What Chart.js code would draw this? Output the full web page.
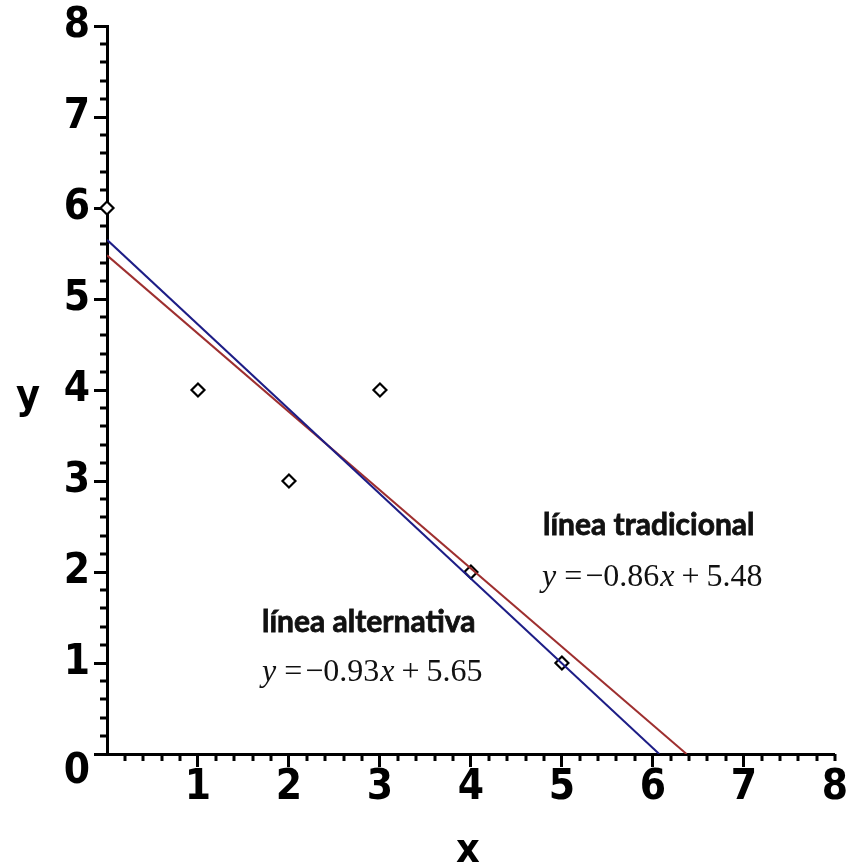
<!DOCTYPE html>
<html>
<head>
<meta charset="utf-8">
<script src="https://cdn.jsdelivr.net/npm/chart.js@4/dist/chart.umd.min.js"></script>
<style>
html,body{margin:0;padding:0;background:#fff;}
canvas{display:block;}
</style>
</head>
<body>
<canvas id="c" width="851" height="867"></canvas>
<script>
// ---- data ----
const xVals = [0, 1, 2, 3, 4, 5];
const yVals = [6, 4, 3, 4, 2, 1];
const tradX = [0, 6.37];
const tradY = [5.48, 0];
const altX = [0, 6.07];
const altY = [5.65, 0];
const xTickLabels = ['', '1', '2', '3', '4', '5', '6', '7', '8'];
const yTickLabels = ['0', '1', '2', '3', '4', '5', '6', '7', '8'];
const xTitle = 'x';
const yTitle = 'y';
const tradLabel = 'línea tradicional';
const tradSlope = '−0.86';
const tradIntercept = '5.48';
const altLabel = 'línea alternativa';
const altSlope = '−0.93';
const altIntercept = '5.65';

const AXIS_FONT = "'DejaVu Sans Condensed', 'DejaVu Sans', sans-serif";

function drawEq(ctx, x, base, slope, inter) {
  const size = 32;
  const roman = size + "px 'Liberation Serif', 'Times New Roman', serif";
  const ital = "italic " + roman;
  const parts = [
    ['y', ital, 8], ['=', roman, 3], [slope, roman, 1], ['x', ital, 7], ['+', roman, 7], [inter, roman, 0]
  ];
  ctx.textBaseline = 'alphabetic';
  ctx.textAlign = 'left';
  let cx = x;
  for (const [t, f, g] of parts) {
    ctx.font = f;
    ctx.fillText(t, cx, base);
    cx += ctx.measureText(t).width + g;
  }
}

function drawBoldLabel(ctx, text, x, base) {
  ctx.font = "bold 30px Lato, 'Open Sans', sans-serif";
  ctx.lineWidth = 0.8;
  ctx.strokeStyle = '#111';
  ctx.fillText(text, x, base);
  ctx.strokeText(text, x, base);
}

const decor = {
  id: 'decor',
  afterDraw(chart) {
    const ctx = chart.ctx;
    const xs = chart.scales.x, ys = chart.scales.y;
    const ca = chart.chartArea;
    ctx.save();
    ctx.strokeStyle = '#000';
    ctx.lineWidth = 3;
    // minor ticks
    for (let i = 1; i <= 40; i++) {
      if (i % 5 === 0 && i !== 40) continue;
      const px = Math.round(xs.getPixelForValue(i / 5));
      ctx.beginPath();
      ctx.moveTo(px, ca.bottom);
      ctx.lineTo(px, ca.bottom + 7);
      ctx.stroke();
    }
    for (let i = 1; i < 40; i++) {
      if (i % 5 === 0) continue;
      const py = Math.round(ys.getPixelForValue(i / 5));
      ctx.beginPath();
      ctx.moveTo(ca.left - 7, py);
      ctx.lineTo(ca.left, py);
      ctx.stroke();
    }
    // axis titles
    ctx.fillStyle = '#000';
    ctx.font = 'bold 41px ' + AXIS_FONT;
    ctx.textAlign = 'center';
    ctx.textBaseline = 'alphabetic';
    ctx.fillText(xTitle, (ca.left + ca.right) / 2 - 3, 862);
    ctx.fillText(yTitle, 28, (ca.top + ca.bottom) / 2 + 18);
    // annotations
    ctx.fillStyle = '#111';
    ctx.textAlign = 'left';
    drawBoldLabel(ctx, tradLabel, 543, 535);
    drawBoldLabel(ctx, altLabel, 262, 632);
    drawEq(ctx, 542, 586, tradSlope, tradIntercept);
    drawEq(ctx, 262, 681, altSlope, altIntercept);
    ctx.restore();
  }
};

const tickFont = { family: AXIS_FONT, weight: 'bold', size: 42, lineHeight: 0.86 };

new Chart(document.getElementById('c'), {
  type: 'scatter',
  data: {
    datasets: [
      {
        label: altLabel,
        data: altX.map((x, i) => ({ x: x, y: altY[i] })),
        showLine: true, borderColor: '#1d1d86', borderWidth: 2,
        pointRadius: 0, order: 0
      },
      {
        label: tradLabel,
        data: tradX.map((x, i) => ({ x: x, y: tradY[i] })),
        showLine: true, borderColor: '#9e2f2f', borderWidth: 2,
        pointRadius: 0, order: 1
      },
      {
        label: 'datos',
        data: xVals.map((x, i) => ({ x: x, y: yVals[i] })),
        pointStyle: 'rectRot', pointRadius: 6.5, pointBorderWidth: 2.2,
        pointBorderColor: '#000', pointBackgroundColor: '#fff',
        borderColor: '#000', backgroundColor: '#fff',
        clip: false, order: 2
      }
    ]
  },
  options: {
    responsive: false,
    animation: false,
    events: [],
    layout: { padding: { top: 26, right: 16, bottom: 0, left: 0 } },
    plugins: { legend: { display: false }, tooltip: { enabled: false } },
    scales: {
      x: {
        type: 'linear', min: 0, max: 8, position: 'bottom',
        afterFit(s) { s.height = 113; },
        ticks: {
          stepSize: 1, autoSkip: false, maxRotation: 0, padding: 3, color: '#000',
          font: tickFont,
          callback: v => xTickLabels[v]
        },
        grid: {
          drawOnChartArea: false, tickLength: 13, tickWidth: 3,
          tickColor: c => (c.tick && (c.tick.value === 0 || c.tick.value === 8)) ? 'rgba(0,0,0,0)' : '#000'
        },
        border: { display: true, color: '#000', width: 3 }
      },
      y: {
        type: 'linear', min: 0, max: 8, position: 'left',
        afterFit(s) { s.width = 107; },
        ticks: {
          stepSize: 1, autoSkip: false, padding: 4, color: '#000',
          font: tickFont,
          callback: v => v === 0 ? ['', yTickLabels[0]] : yTickLabels[v]
        },
        grid: { drawOnChartArea: false, tickLength: 13, tickWidth: 3, tickColor: '#000' },
        border: { display: true, color: '#000', width: 3 }
      }
    }
  },
  plugins: [decor]
});
</script>
</body>
</html>
